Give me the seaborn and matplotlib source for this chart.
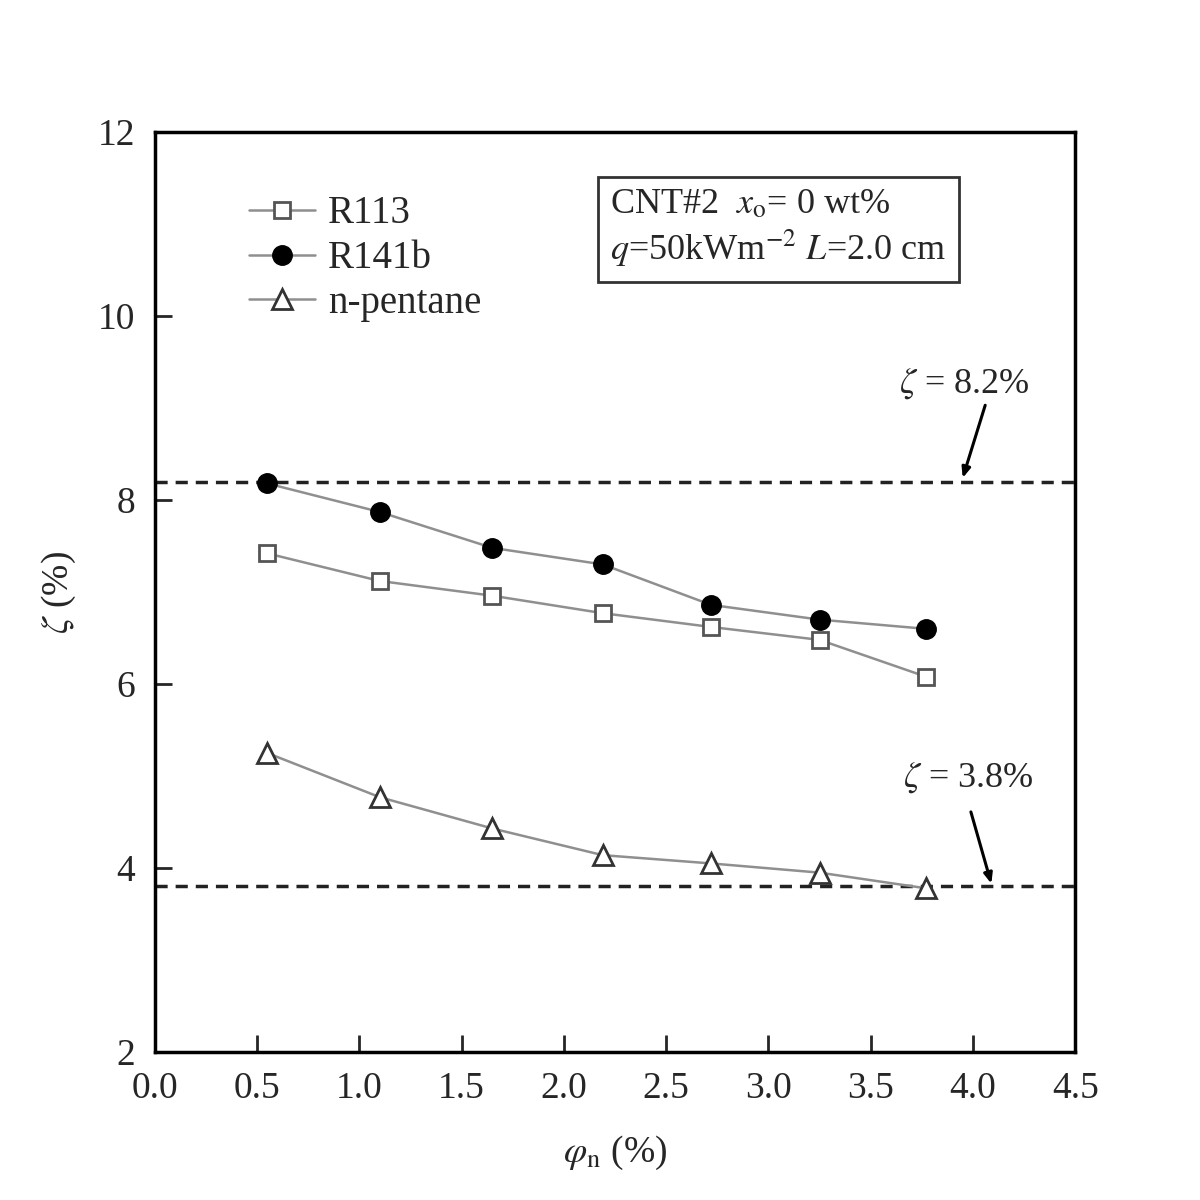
import matplotlib
matplotlib.use("Agg")
import matplotlib.pyplot as plt
import seaborn as sns
import pandas as pd
from matplotlib.lines import Line2D

phi = [0.55, 1.10, 1.65, 2.19, 2.72, 3.25, 3.77]
r113 = [7.42, 7.12, 6.96, 6.77, 6.62, 6.48, 6.08]
r141b = [8.18, 7.87, 7.48, 7.30, 6.86, 6.70, 6.60]
npentane = [5.25, 4.77, 4.43, 4.14, 4.05, 3.95, 3.78]
series_names = ["R113", "R141b", "n-pentane"]
ref_levels = [8.2, 3.8]
ref_labels = [r"$\zeta$ = 8.2%", r"$\zeta$ = 3.8%"]
xticks = [0.0, 0.5, 1.0, 1.5, 2.0, 2.5, 3.0, 3.5, 4.0, 4.5]
yticks = [2, 4, 6, 8, 10, 12]

sns.set_style("ticks")
plt.rcParams["font.family"] = ["Liberation Serif", "DejaVu Serif"]
plt.rcParams["mathtext.fontset"] = "stix"

fig = plt.figure(figsize=(12, 12), dpi=100)
ax = fig.add_axes([0.129, 0.1233, 0.767, 0.7667])

line_color = "#8f8f8f"
styles = {
    "R113": dict(marker="s", markersize=12, markerfacecolor="white",
                 markeredgecolor="#555555", markeredgewidth=2),
    "R141b": dict(marker="o", markersize=14, markerfacecolor="black",
                  markeredgecolor="black", markeredgewidth=1),
    "n-pentane": dict(marker="^", markersize=15, markerfacecolor="white",
                      markeredgecolor="#333333", markeredgewidth=2),
}
data = {"R113": r113, "R141b": r141b, "n-pentane": npentane}

for name in series_names:
    df = pd.DataFrame({"phi": phi, "zeta": data[name]})
    sns.lineplot(data=df, x="phi", y="zeta", ax=ax, color=line_color,
                 linewidth=1.8, legend=False, zorder=3, **styles[name])

for lvl in ref_levels:
    ax.axhline(lvl, color="#222222", lw=2.5, linestyle=(0, (3.5, 2.3)), zorder=2)

# annotations
ax.text(3.96, 9.27, ref_labels[0], fontsize=26, ha="center", va="center")
ax.annotate("", xy=(3.95, 8.24), xytext=(4.06, 9.03),
            arrowprops=dict(arrowstyle="-|>,head_length=0.6,head_width=0.25",
                            color="black", lw=2.2, shrinkA=0, shrinkB=0))
ax.text(3.98, 4.98, ref_labels[1], fontsize=26, ha="center", va="center")
ax.annotate("", xy=(4.09, 3.83), xytext=(3.99, 4.61),
            arrowprops=dict(arrowstyle="-|>,head_length=0.6,head_width=0.25",
                            color="black", lw=2.2, shrinkA=0, shrinkB=0))

# info box
ax.text(0.495, 0.895,
        "CNT#2  $x_\\mathrm{o}$= 0 wt%\n$q$=50kWm$^{-2}$ $L$=2.0 cm",
        transform=ax.transAxes, fontsize=26, ha="left", va="center",
        linespacing=1.2,
        bbox=dict(boxstyle="square,pad=0.35", facecolor="white",
                  edgecolor="#333333", linewidth=2))

# legend
handles = [Line2D([0], [0], color=line_color, lw=1.8, **styles[n]) for n in series_names]
ax.legend(handles, series_names, loc="upper left", bbox_to_anchor=(0.085, 0.948),
          frameon=False, fontsize=28, handlelength=1.7, handletextpad=0.35,
          labelspacing=0.2, borderaxespad=0)

ax.set_xlim(0.0, 4.5)
ax.set_ylim(2, 12)
ax.set_xticks(xticks)
ax.set_xticklabels([f"{t:.1f}" for t in xticks])
ax.set_yticks(yticks)
ax.set_yticklabels([str(t) for t in yticks])
ax.tick_params(direction="in", length=12, width=2, labelsize=27,
               top=False, right=False)
ax.tick_params(axis="x", pad=14)
ax.tick_params(axis="y", pad=14)
for s in ax.spines.values():
    s.set_visible(True)
    s.set_linewidth(2.5)
    s.set_color("black")

ax.set_xlabel(r"$\varphi_\mathrm{n}$ (%)", fontsize=27, labelpad=20)
ax.set_ylabel(r"$\zeta$ (%)", fontsize=27, labelpad=14)

fig.savefig("out.png", dpi=100, facecolor="white")
